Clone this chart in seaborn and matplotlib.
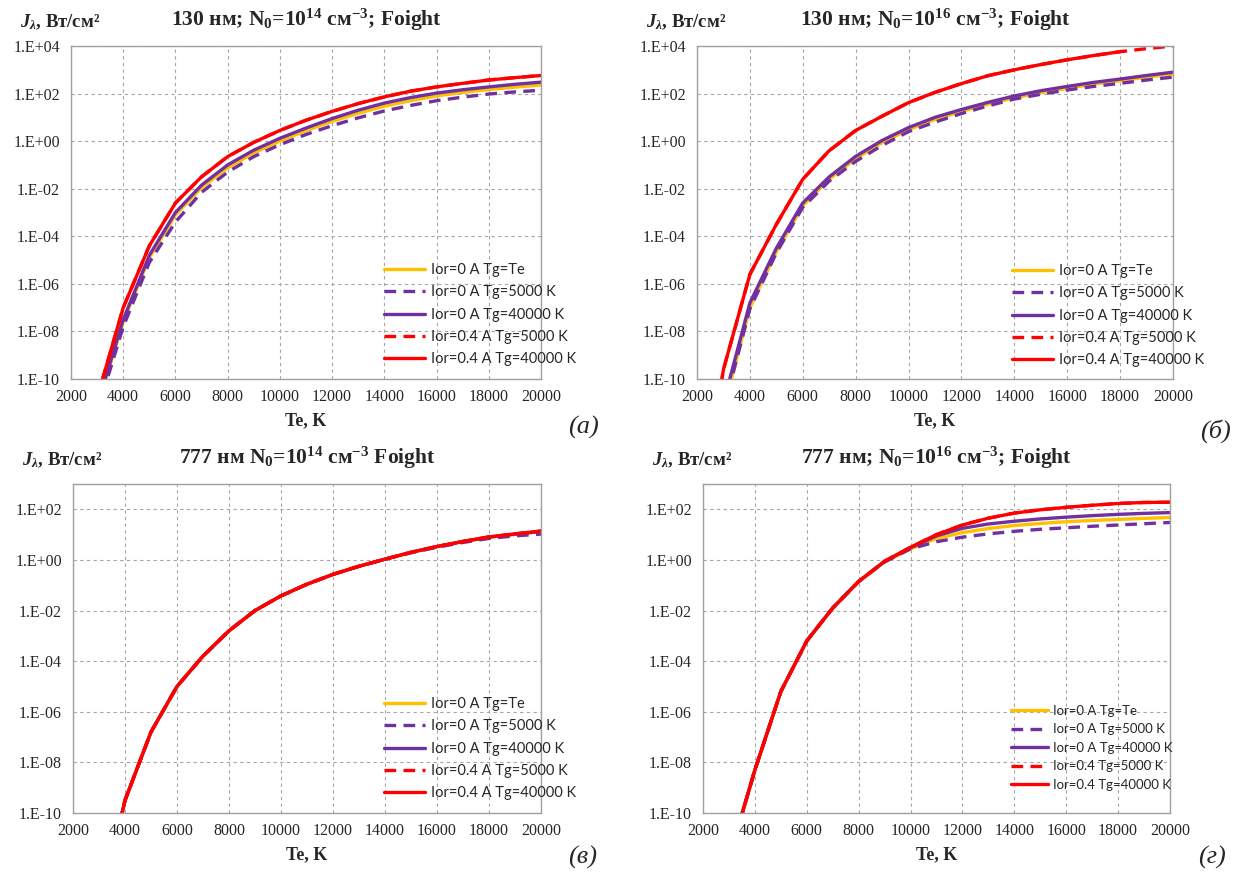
import numpy as np
import pandas as pd
import matplotlib
matplotlib.use('Agg')
import matplotlib.pyplot as plt
import seaborn as sns
from matplotlib.ticker import FixedLocator, LogLocator, MultipleLocator, FuncFormatter, NullFormatter

# ── data: log10(J) ──────────────────────────────────────────────────────────
T = [3000, 4000, 5000, 6000, 7000, 8000, 9000, 10000, 11000,
     12000, 13000, 14000, 15000, 16000, 17000, 18000, 19000, 20000]
T_b = [2900, 3000, 4000, 5000, 6000, 7000, 8000, 9000, 10000, 11000,
       12000, 13000, 14000, 15000, 16000, 17000, 18000, 19000, 20000]

# (а) 130 nm, N0=1e14
a_yellow = [-11.2, -7.6, -4.9, -3.1, -1.95, -1.12, -0.5, 0.0, 0.44,
            0.83, 1.17, 1.47, 1.7, 1.9, 2.05, 2.17, 2.27, 2.36]
a_purple_5000 = [-11.4, -7.8, -5.1, -3.4, -2.15, -1.3, -0.65, -0.15, 0.28,
                 0.65, 0.98, 1.27, 1.5, 1.7, 1.85, 1.98, 2.07, 2.14]
a_purple_40000 = [-11.1, -7.5, -4.8, -3.0, -1.85, -1.0, -0.38, 0.12, 0.55,
                  0.95, 1.3, 1.6, 1.83, 2.02, 2.16, 2.28, 2.39, 2.48]
a_red_5000 = [-10.8, -7.0, -4.4, -2.6, -1.5, -0.65, -0.05, 0.45, 0.88,
              1.25, 1.58, 1.86, 2.1, 2.28, 2.43, 2.57, 2.67, 2.76]
a_red_40000 = [-10.8, -7.0, -4.4, -2.6, -1.5, -0.65, -0.05, 0.45, 0.88,
               1.25, 1.58, 1.86, 2.1, 2.28, 2.43, 2.57, 2.67, 2.76]

# (б) 130 nm, N0=1e16
b_yellow = [np.nan, -11.3, -7.0, -4.65, -2.72, -1.6, -0.74, -0.06, 0.48, 0.91,
            1.25, 1.55, 1.82, 2.04, 2.22, 2.4, 2.54, 2.69, 2.82]
b_purple_5000 = [np.nan, -11.3, -7.05, -4.7, -2.78, -1.68, -0.85, -0.18, 0.4, 0.8,
                 1.16, 1.48, 1.77, 1.97, 2.15, 2.3, 2.43, 2.57, 2.69]
b_purple_40000 = [np.nan, -11.0, -6.8, -4.5, -2.6, -1.5, -0.64, 0.03, 0.57, 1.0,
                  1.33, 1.63, 1.9, 2.12, 2.3, 2.47, 2.61, 2.76, 2.9]
b_red_5000 = [-10.3, -9.6, -5.6, -3.5, -1.6, -0.4, 0.45, 1.05, 1.62, 2.05,
              2.42, 2.75, 3.0, 3.22, 3.42, 3.6, 3.76, 3.89, 4.0]
b_red_40000 = [-10.3, -9.6, -5.6, -3.5, -1.6, -0.4, 0.45, 1.05, 1.62, 2.05,
               2.42, 2.75, 3.0, 3.22, 3.42, 3.6, 3.76, np.nan, np.nan]

# (в) 777 nm, N0=1e14
c_yellow = [-14.0, -9.5, -6.8, -5.0, -3.8, -2.8, -2.0, -1.42, -0.96,
            -0.57, -0.25, 0.03, 0.3, 0.52, 0.72, 0.89, 1.01, 1.12]
c_purple_5000 = [-14.0, -9.5, -6.8, -5.0, -3.8, -2.8, -2.0, -1.42, -0.96,
                 -0.57, -0.25, 0.03, 0.28, 0.5, 0.69, 0.85, 0.95, 1.02]
c_purple_40000 = [-14.0, -9.5, -6.8, -5.0, -3.8, -2.8, -2.0, -1.42, -0.96,
                  -0.57, -0.25, 0.03, 0.3, 0.53, 0.73, 0.9, 1.02, 1.13]
c_red_5000 = [-14.0, -9.5, -6.8, -5.0, -3.8, -2.8, -2.0, -1.42, -0.96,
              -0.57, -0.25, 0.03, 0.3, 0.53, 0.73, 0.91, 1.03, 1.14]
c_red_40000 = [-14.0, -9.5, -6.8, -5.0, -3.8, -2.8, -2.0, -1.42, -0.96,
               -0.57, -0.25, 0.03, 0.3, 0.53, 0.73, 0.91, 1.03, 1.14]

# (г) 777 nm, N0=1e16
d_yellow = [-11.8, -8.3, -5.2, -3.2, -1.9, -0.85, -0.08, 0.44, 0.85,
            1.08, 1.24, 1.36, 1.44, 1.51, 1.56, 1.6, 1.64, 1.68]
d_purple_5000 = [-11.8, -8.3, -5.2, -3.2, -1.9, -0.85, -0.08, 0.44, 0.72,
                 0.9, 1.03, 1.13, 1.21, 1.27, 1.33, 1.38, 1.43, 1.48]
d_purple_40000 = [-11.8, -8.3, -5.2, -3.2, -1.9, -0.85, -0.06, 0.48, 0.95,
                  1.25, 1.42, 1.53, 1.62, 1.69, 1.75, 1.8, 1.84, 1.87]
d_red_5000 = [-11.8, -8.3, -5.2, -3.2, -1.9, -0.85, -0.05, 0.5, 1.0,
              1.38, 1.65, 1.85, 1.98, 2.08, 2.16, 2.23, 2.27, 2.28]
d_red_40000 = [-11.8, -8.3, -5.2, -3.2, -1.9, -0.85, -0.05, 0.5, 1.0,
               1.38, 1.65, 1.85, 1.98, 2.08, 2.16, 2.23, 2.27, 2.28]

labels_A = ['Ior=0 A Tg=Te', 'Ior=0 A Tg=5000 K', 'Ior=0 A Tg=40000 K',
            'Ior=0.4 A Tg=5000 K', 'Ior=0.4 A Tg=40000 K']
labels_D = ['Ior=0 A Tg=Te', 'Ior=0 A Tg=5000 K', 'Ior=0 A Tg=40000 K',
            'Ior=0.4 Tg=5000 K', 'Ior=0.4 Tg=40000 K']

titles = [r'130 нм; N$_\mathbf{0}$=10$^\mathbf{14}$ см$^\mathbf{-3}$; Foight',
          r'130 нм; N$_\mathbf{0}$=10$^\mathbf{16}$ см$^\mathbf{-3}$; Foight',
          r'777 нм N$_\mathbf{0}$=10$^\mathbf{14}$ см$^\mathbf{-3}$ Foight',
          r'777 нм; N$_\mathbf{0}$=10$^\mathbf{16}$ см$^\mathbf{-3}$; Foight']
letters = ['(а)', '(б)', '(в)', '(г)']

# ── style ───────────────────────────────────────────────────────────────────
sns.set_style('white')
plt.rcParams['font.family'] = ['Liberation Serif', 'DejaVu Serif']
plt.rcParams['mathtext.fontset'] = 'custom'
plt.rcParams['mathtext.rm'] = 'Liberation Serif'
plt.rcParams['mathtext.bf'] = 'Liberation Serif:bold'
plt.rcParams['mathtext.it'] = 'Liberation Serif:italic:bold'

COLORS = ['#FFC000', '#7030A0', '#7030A0', '#FF0000', '#FF0000']
DASH = (0, (3.5, 2.2))
STYLES = ['-', DASH, '-', DASH, '-']
GRID_C = '#A6A6A6'
W, H = 1237, 877


def fmt_exp(v, pos):
    e = int(round(np.log10(v)))
    return f'1.E{e:+03d}'


def draw_panel(px, T_vals, series, ytop, title, letter, labels, leg, leg_fs, leg_sp,
               xl_off, let_off):
    x0, y0, x1, y1 = px
    ax = fig.add_axes([x0 / W, 1 - y1 / H, (x1 - x0) / W, (y1 - y0) / H])
    for vals, c, ls, lab in zip(series, COLORS, STYLES, labels):
        yv = 10.0 ** np.array(vals, dtype=float)
        sns.lineplot(x=T_vals, y=yv, ax=ax, color=c, linestyle=ls, lw=2.4,
                     label=lab, sort=False, estimator=None)
    ax.set_yscale('log')
    ax.set_xlim(2000, 20000)
    ax.set_ylim(1e-10, 10.0 ** ytop)

    ax.xaxis.set_major_locator(MultipleLocator(2000))
    ax.xaxis.set_minor_locator(MultipleLocator(500))
    ax.yaxis.set_major_locator(FixedLocator([10.0 ** k for k in range(-10, ytop + 1, 2)]))
    ax.yaxis.set_minor_locator(LogLocator(base=10, subs=np.arange(1, 10), numticks=200))
    ax.yaxis.set_major_formatter(FuncFormatter(fmt_exp))
    ax.yaxis.set_minor_formatter(NullFormatter())
    ax.tick_params(axis='x', which='major', direction='inout', length=7, color='#808080',
                   labelsize=11.5, pad=4)
    ax.tick_params(axis='x', which='minor', direction='inout', length=4, color='#808080')
    ax.tick_params(axis='y', which='major', direction='out', length=5, color='#808080',
                   labelsize=11.5, pad=3)
    ax.tick_params(axis='y', which='minor', direction='out', length=3, color='#808080')
    ax.grid(True, which='major', color=GRID_C, ls=(0, (3, 3)), lw=0.8)
    for s in ax.spines.values():
        s.set_color('#A0A0A0')
        s.set_linewidth(1.0)
    ax.set_xlabel('')
    ax.set_ylabel('')

    cx = (x0 + x1) / 2
    fig.text(cx / W, 1 - (y0 - 26) / H, title, ha='center', va='center',
             fontsize=15.5, fontweight='bold')
    fig.text((x0 - 51) / W, 1 - (y0 - 24) / H, r'$J_\lambda$, Вт/см²', ha='left',
             va='center', fontsize=13.5, fontweight='bold')
    fig.text(cx / W, 1 - (y1 + xl_off) / H, 'Te, K', ha='center', va='center',
             fontsize=13, fontweight='bold')
    fig.text((x1 + 42) / W, 1 - (y1 + let_off) / H, letter, ha='center', va='center',
             fontsize=19, fontstyle='italic')

    ax.legend(loc='upper left', bbox_to_anchor=(leg[0] / W, 1 - leg[1] / H),
              bbox_transform=fig.transFigure, frameon=False, borderpad=0,
              handlelength=2.8, handletextpad=0.4, labelspacing=leg_sp,
              prop={'family': 'Lato', 'size': leg_fs})
    return ax


fig = plt.figure(figsize=(W / 100, H / 100), dpi=100)

draw_panel((71, 46, 541, 379), T,
           [a_yellow, a_purple_5000, a_purple_40000, a_red_5000, a_red_40000],
           4, titles[0], letters[0], labels_A, (377, 256), 10.5, 0.56, 42, 48)
draw_panel((697, 46, 1173, 379), T_b,
           [b_yellow, b_purple_5000, b_purple_40000, b_red_5000, b_red_40000],
           4, titles[1], letters[1], labels_A, (1005, 257), 10.5, 0.56, 42, 52)
draw_panel((73, 484, 541, 813), T,
           [c_yellow, c_purple_5000, c_purple_40000, c_red_5000, c_red_40000],
           3, titles[2], letters[2], labels_A, (377, 690), 10.5, 0.56, 42, 44)
draw_panel((703, 484, 1170, 813), T,
           [d_yellow, d_purple_5000, d_purple_40000, d_red_5000, d_red_40000],
           3, titles[3], letters[3], labels_D, (1004, 698), 9.5, 0.5, 42, 44)

fig.savefig('out.png', dpi=100)
